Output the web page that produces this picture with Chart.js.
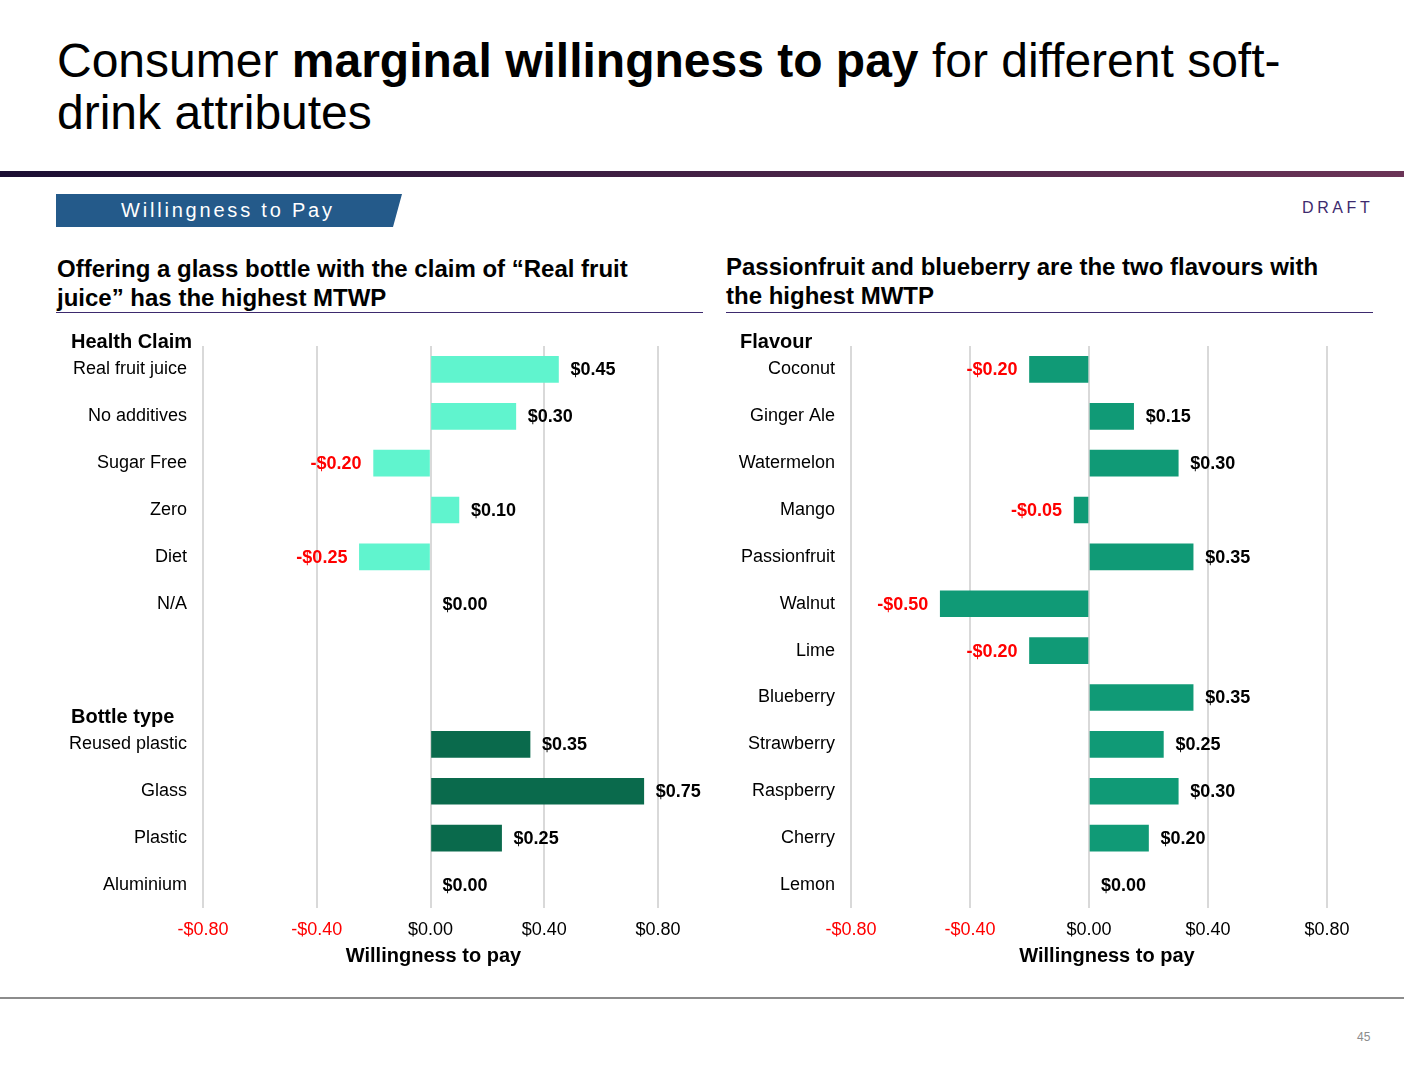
<!DOCTYPE html>
<html lang="en">
<head>
  <meta charset="UTF-8" />
  <title>Consumer marginal willingness to pay</title>
  <script src="https://cdn.jsdelivr.net/npm/chart.js"></script>
  <style>
    body { margin: 0; background: #fff; font-family: 'Liberation Sans', Arial, sans-serif; }
    .slide { position: relative; width: 1428px; height: 1072px; overflow: hidden; }
    .abs { position: absolute; }
    .title { left: 57px; top: 35px; font-size: 48px; line-height: 52px; color: #000; }
    .topbar { left: 0; top: 171px; width: 1404px; height: 6px; background: linear-gradient(to right, #1b0e33, #6b3457); }
    .badge { left: 56px; top: 194px; width: 346px; height: 33px; background: #245a8a;
             clip-path: polygon(0 0, 100% 0, 97.4% 100%, 0 100%); color: #fff;
             font-size: 20px; letter-spacing: 2.8px; line-height: 33px; padding-left: 65px; box-sizing: border-box; }
    .draft { left: 1302px; top: 199px; font-size: 16px; letter-spacing: 3.6px; color: #3d2a6e; }
    .sub { font-size: 24px; font-weight: bold; line-height: 29px; color: #000; }
    .rule { height: 1px; background: #3d2a6e; }
    .bottom { left: 0; top: 997px; width: 1404px; height: 2px; background: #8c8c8c; }
    .page { left: 1357px; top: 1030px; font-size: 12px; color: #8c8c8c; }
  </style>
</head>
<body>
<div class="slide">
  <div class="abs title">Consumer <b>marginal willingness to pay</b> for different soft-<br>drink attributes</div>
  <div class="abs topbar"></div>
  <div class="abs badge">Willingness to Pay</div>
  <div class="abs draft">DRAFT</div>

  <div class="abs sub" style="left:57px;top:254px;">Offering a glass bottle with the claim of “Real fruit<br>juice” has the highest MTWP</div>
  <div class="abs rule" style="left:56px;top:312px;width:647px;"></div>
  <div class="abs sub" style="left:726px;top:252px;">Passionfruit and blueberry are the two flavours with<br>the highest MWTP</div>
  <div class="abs rule" style="left:726px;top:312px;width:647px;"></div>

  <div class="abs" style="left:50px;top:330px;"><canvas id="leftChart" width="660" height="638"></canvas></div>
  <div class="abs" style="left:700px;top:330px;"><canvas id="rightChart" width="680" height="638"></canvas></div>

  <div class="abs bottom"></div>
  <div class="abs page">45</div>
</div>

<script>
  // left panel: health claim + bottle type
  const leftLabels = ['Real fruit juice', 'No additives', 'Sugar Free', 'Zero', 'Diet', 'N/A', '', '',
                      'Reused plastic', 'Glass', 'Plastic', 'Aluminium'];
  const leftValues = [0.45, 0.30, -0.20, 0.10, -0.25, 0.00, null, null, 0.35, 0.75, 0.25, 0.00];
  const leftGroup = ['health', 'health', 'health', 'health', 'health', 'health', 'health', 'health',
                     'bottle', 'bottle', 'bottle', 'bottle'];
  const leftHeaders = ['Health Claim', 'Bottle type'];
  const leftHeaderRows = [0, 8];

  // right panel: flavours
  const rightLabels = ['Coconut', 'Ginger Ale', 'Watermelon', 'Mango', 'Passionfruit', 'Walnut', 'Lime',
                       'Blueberry', 'Strawberry', 'Raspberry', 'Cherry', 'Lemon'];
  const rightValues = [-0.20, 0.15, 0.30, -0.05, 0.35, -0.50, -0.20, 0.35, 0.25, 0.30, 0.20, 0.00];
  const rightHeaders = ['Flavour'];
  const rightHeaderRows = [0];

  const axisTicks = [-0.80, -0.40, 0.00, 0.40, 0.80];
  const axisTitle = 'Willingness to pay';

  const groupColors = { health: '#60f4ce', bottle: '#0a6a4c', flavour: '#109a76' };

  Chart.defaults.font.family = "'Liberation Sans', Arial, sans-serif";
  Chart.defaults.color = '#000';

  const money = v => (v < 0 ? '-$' : '$') + Math.abs(v).toFixed(2);

  const valueLabels = {
    id: 'valueLabels',
    afterDatasetsDraw(chart) {
      const ctx = chart.ctx;
      const meta = chart.getDatasetMeta(0);
      const data = chart.data.datasets[0].data;
      const opts = chart.options.plugins.valueLabels;
      ctx.save();
      ctx.font = 'bold 18px ' + Chart.defaults.font.family;
      ctx.textBaseline = 'middle';
      meta.data.forEach((bar, i) => {
        const v = data[i];
        if (v === null) return;
        if (v < 0) {
          ctx.fillStyle = '#ff0000';
          ctx.textAlign = 'right';
          ctx.fillText(money(v), bar.x - 12, bar.y + 1);
        } else {
          ctx.fillStyle = '#000';
          ctx.textAlign = 'left';
          ctx.fillText(money(v), bar.x + 12, bar.y + 1);
        }
      });
      // group headers
      ctx.font = 'bold 20px ' + Chart.defaults.font.family;
      ctx.textAlign = 'left';
      ctx.fillStyle = '#000';
      opts.headers.forEach((h, k) => {
        const y = chart.scales.y.getPixelForValue(opts.rows[k]) - 27;
        ctx.fillText(h, opts.headerX, y);
      });
      // axis title
      ctx.textAlign = 'center';
      const area = chart.chartArea;
      ctx.fillText(axisTitle, (area.left + area.right) / 2 + opts.titleShift, area.bottom + 48);
      ctx.restore();
    }
  };

  function makeChart(id, labels, values, colors, headers, rows, headerX, rightPad, yWidth, titleShift) {
    return new Chart(document.getElementById(id), {
      type: 'bar',
      data: {
        labels: labels,
        datasets: [{
          data: values,
          backgroundColor: colors.map((c, i) => (values[i] === 0 ? 'rgba(0,0,0,0)' : c)),
          barThickness: 26
        }]
      },
      options: {
        indexAxis: 'y',
        responsive: false,
        animation: false,
        layout: { padding: { top: 16, right: rightPad, bottom: 16, left: 0 } },
        plugins: {
          legend: { display: false },
          tooltip: { enabled: false },
          valueLabels: { headers: headers, rows: rows, headerX: headerX, titleShift: titleShift }
        },
        scales: {
          x: {
            min: axisTicks[0],
            max: axisTicks[axisTicks.length - 1],
            afterBuildTicks: s => { s.ticks = axisTicks.map(v => ({ value: v })); },
            grid: { color: '#d9d9d9', lineWidth: 2, drawTicks: false },
            border: { display: false },
            ticks: {
              padding: 11,
              font: { size: 18 },
              color: c => (c.tick && c.tick.value < 0 ? '#ff0000' : '#000'),
              callback: v => money(v)
            }
          },
          y: {
            grid: { display: false, drawTicks: false },
            border: { display: false },
            ticks: { padding: 16, font: { size: 18 }, color: '#000' },
            afterFit: s => { s.width = yWidth; s.paddingTop = 0; s.paddingBottom = 0; }
          }
        }
      },
      plugins: [valueLabels]
    });
  }

  makeChart('leftChart', leftLabels, leftValues, leftGroup.map(g => groupColors[g]),
            leftHeaders, leftHeaderRows, 21, 52, 153, 3);
  makeChart('rightChart', rightLabels, rightValues, rightLabels.map(() => groupColors.flavour),
            rightHeaders, rightHeaderRows, 40, 53, 151, 18);
</script>
</body>
</html>
